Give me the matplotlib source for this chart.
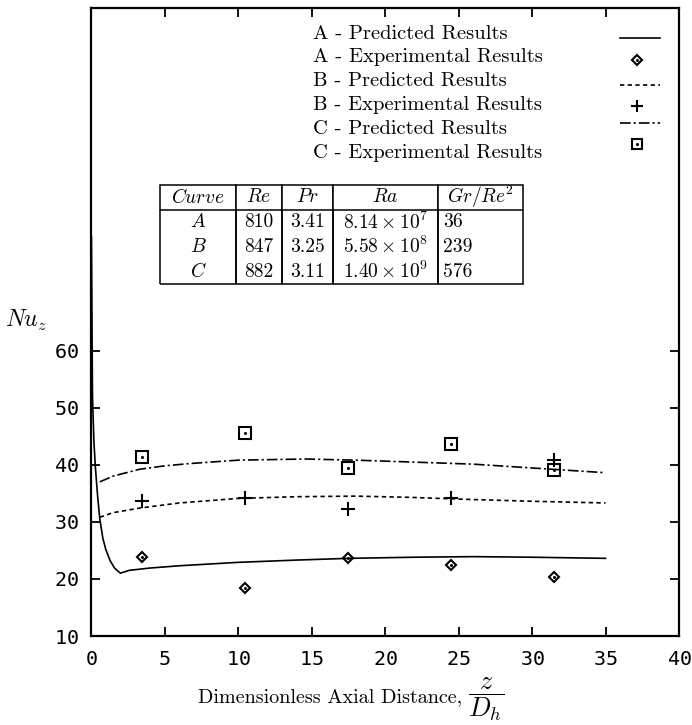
import numpy as np
import matplotlib
matplotlib.use("Agg")
import matplotlib.pyplot as plt
from matplotlib.lines import Line2D

plt.rcParams['font.family'] = ['cmr10', 'DejaVu Serif']
plt.rcParams['mathtext.fontset'] = 'cm'
plt.rcParams['axes.unicode_minus'] = False
plt.rcParams['axes.formatter.use_mathtext'] = True

# predicted curves (Nu_z vs z/D_h)
z_a = [0.03, 0.1, 0.2, 0.3, 0.45, 0.6, 0.8, 1.0, 1.3, 1.6, 2.0, 2.6, 4, 6, 10, 14, 17.5, 22, 26, 30, 35]
nu_a = [80, 52, 44, 39.5, 34.5, 30.5, 27.2, 25.2, 23.2, 21.9, 21.0, 21.5, 21.9, 22.3, 22.9, 23.3, 23.6, 23.8, 23.9, 23.8, 23.6]

z_b = [0.6, 1.5, 3.3, 6, 10, 14, 18, 21.5, 26, 30, 35]
nu_b = [30.8, 31.6, 32.4, 33.3, 34.1, 34.4, 34.5, 34.3, 33.9, 33.6, 33.3]

z_c = [0.6, 1.5, 3.3, 5, 6.7, 10, 14.6, 18, 21.5, 26, 31.4, 35]
nu_c = [37.0, 38.0, 39.2, 39.8, 40.2, 40.8, 41.0, 40.8, 40.5, 40.1, 39.2, 38.6]

# experimental points
z_exp = [3.5, 10.5, 17.5, 24.5, 31.5]
nu_exp_a = [23.8, 18.4, 23.6, 22.4, 20.4]
nu_exp_b = [33.7, 34.1, 32.3, 34.1, 40.8]
nu_exp_c = [41.4, 45.6, 39.5, 43.6, 39.1]

legend_labels = ["A - Predicted Results", "A - Experimental Results",
                 "B - Predicted Results", "B - Experimental Results",
                 "C - Predicted Results", "C - Experimental Results"]

table_header = ["$Curve$", "$Re$", "$Pr$", "$Ra$", "$Gr/Re^2$"]
table_rows = [["$A$", "810", "3.41", r"$8.14\times10^{7}$", "36"],
              ["$B$", "847", "3.25", r"$5.58\times10^{8}$", "239"],
              ["$C$", "882", "3.11", r"$1.40\times10^{9}$", "576"]]

W, H = 692, 725
fig = plt.figure(figsize=(W / 100, H / 100), dpi=100)
ax = fig.add_axes([91 / W, 1 - 636 / H, 588 / W, 628 / H])

lw = 1.2
dash_b = (0, (2.6, 2.0))
dash_c = (0, (6.4, 1.8, 1.3, 1.8))

ax.plot(z_a, nu_a, color='black', lw=lw)
ax.plot(z_b, nu_b, color='black', lw=lw, linestyle=dash_b)
ax.plot(z_c, nu_c, color='black', lw=lw, linestyle=dash_c)

mk = dict(linestyle='none', color='black', markerfacecolor='none', markeredgewidth=1.5)
ax.plot(z_exp, nu_exp_a, marker='D', markersize=5.5, **mk)
ax.plot(z_exp, nu_exp_b, marker='+', markersize=10, **mk)
ax.plot(z_exp, nu_exp_c, marker='s', markersize=8, **mk)
# small dots in the middle of the open markers
for vals in (nu_exp_a, nu_exp_c):
    ax.plot(z_exp, vals, linestyle='none', marker='o', markersize=1.2, color='black')

ax.set_xlim(0, 40)
ax.set_ylim(10, 120)
ax.set_xticks(np.arange(0, 41, 5))
ax.set_yticks(np.arange(10, 61, 10))
for sp in ax.spines.values():
    sp.set_linewidth(1.6)
ax.tick_params(direction='in', length=6.5, width=1.3, top=True, right=True,
               labelsize=14.5)
ax.tick_params(axis='x', pad=10)
ax.tick_params(axis='y', pad=9)
for lab in ax.get_xticklabels() + ax.get_yticklabels():
    lab.set_family('DejaVu Sans Mono')

# legend: labels on the left, samples on the right
def ax_y(py):
    return (636 - py) / 628

def ax_x(px):
    return (px - 91) / 588

text_rows = [34, 57, 81, 105, 129, 153]
for lbl, py in zip(legend_labels, text_rows):
    ax.text(ax_x(313), ax_y(py), lbl, transform=ax.transAxes, fontsize=14.8,
            va='center', ha='left')

tr = ax.transAxes
ax.add_line(Line2D([ax_x(620), ax_x(660)], [ax_y(38)] * 2, transform=tr, color='black', lw=lw))
ax.add_line(Line2D([ax_x(620), ax_x(660)], [ax_y(85)] * 2, transform=tr, color='black', lw=lw,
                   linestyle=dash_b))
ax.add_line(Line2D([ax_x(620), ax_x(660)], [ax_y(123)] * 2, transform=tr, color='black', lw=lw,
                   linestyle=dash_c))
ax.add_line(Line2D([ax_x(637)], [ax_y(60)], transform=tr, marker='D', markersize=5, **mk))
ax.add_line(Line2D([ax_x(637)], [ax_y(106)], transform=tr, marker='+', markersize=9, **mk))
ax.add_line(Line2D([ax_x(637)], [ax_y(144)], transform=tr, marker='s', markersize=7, **mk))
for py in (60, 144):
    ax.add_line(Line2D([ax_x(637)], [ax_y(py)], transform=tr, marker='o', markersize=1.2,
                       color='black', linestyle='none'))

# parameter table
col_px = [76, 46, 51, 105, 85]
tab = ax.table(cellText=table_rows, colLabels=table_header, cellLoc='center',
               colWidths=[c / sum(col_px) for c in col_px],
               bbox=[ax_x(160), ax_y(284), 363 / 588, (284 - 185) / 628])
tab.auto_set_font_size(False)
tab.set_fontsize(14)
for (r, c), cell in tab.get_celld().items():
    cell.set_linewidth(1.1)
    if r == 0:
        cell.visible_edges = 'closed'
    elif r == len(table_rows):
        cell.visible_edges = 'BLR'
    else:
        cell.visible_edges = 'LR'
    if r > 0 and c == 4:
        cell.get_text().set_horizontalalignment('left')
        cell.PAD = 0.06

fig.text(26 / W, 1 - 320 / H, "$Nu_z$", fontsize=17, ha='center', va='center')
fig.text(462 / W, 1 - 697 / H, "Dimensionless Axial Distance,",
         fontsize=14.5, ha='right', va='center')
fig.text(486 / W, 1 - 699 / H, r"$\dfrac{z}{D_h}$", fontsize=19, ha='center', va='center')

fig.savefig("out.png", dpi=100)
